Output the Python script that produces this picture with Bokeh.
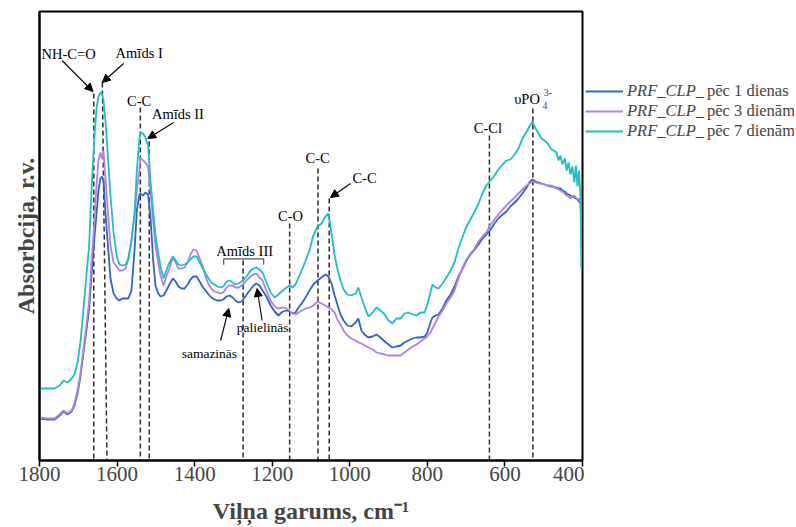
from bokeh.plotting import figure
from bokeh.layouts import row
from bokeh.models import (Range1d, FixedTicker, Label, Arrow, NormalHead,
                          Legend, LegendItem)
from bokeh.embed import file_html
from bokeh.resources import INLINE

# ---------------- data ----------------
wavenumber = [
    1800, 1779, 1761, 1748, 1738, 1728, 1717, 1710, 1702, 1694,
    1687, 1679, 1672, 1666, 1659, 1653, 1648, 1643, 1639, 1635,
    1630, 1623, 1617, 1609, 1601, 1594, 1586, 1578, 1571, 1563,
    1555, 1549, 1543, 1540, 1533, 1527, 1520, 1514, 1507, 1501,
    1494, 1488, 1480, 1473, 1465, 1456, 1449, 1442, 1434, 1426,
    1418, 1411, 1403, 1395, 1387, 1380, 1372, 1364, 1357, 1349,
    1341, 1333, 1326, 1318, 1310, 1302, 1295, 1287, 1279, 1271,
    1264, 1256, 1248, 1241, 1233, 1225, 1215, 1204, 1194, 1184,
    1173, 1163, 1155, 1148, 1140, 1132, 1124, 1114, 1104, 1094,
    1083, 1073, 1063, 1055, 1047, 1039, 1032, 1024, 1016, 1006,
    996, 985, 978, 970, 962, 952, 941, 931, 921, 910,
    900, 890, 880, 869, 859, 849, 838, 828, 818, 807,
    800, 792, 787, 779, 771, 761, 751, 740, 730, 720,
    709, 699, 689, 678, 668, 658, 648, 637, 627, 617,
    606, 596, 586, 575, 565, 555, 544, 537, 529, 521,
    513, 506, 498, 490, 482, 475, 467, 462, 457, 452,
    446, 441, 436, 431, 426, 421, 417, 413, 409, 405,
    403,
]

absorb_day1 = [
    0.42, 0.41, 0.41, 0.45, 0.49, 0.46, 0.49, 0.55, 0.67, 0.85,
    1.07, 1.30, 1.52, 1.85, 2.20, 2.47, 2.70, 2.82, 2.84, 2.80,
    2.48, 2.12, 1.82, 1.67, 1.62, 1.60, 1.62, 1.62, 1.62, 1.70,
    2.10, 2.50, 2.65, 2.67, 2.65, 2.68, 2.66, 2.45, 2.00, 1.75,
    1.67, 1.64, 1.65, 1.70, 1.76, 1.82, 1.79, 1.74, 1.72, 1.72,
    1.76, 1.81, 1.84, 1.84, 1.79, 1.74, 1.70, 1.66, 1.63, 1.61,
    1.60, 1.60, 1.61, 1.64, 1.65, 1.63, 1.60, 1.58, 1.59, 1.63,
    1.67, 1.71, 1.75, 1.77, 1.75, 1.70, 1.64, 1.55, 1.49, 1.45,
    1.49, 1.50, 1.49, 1.47, 1.48, 1.53, 1.57, 1.63, 1.70, 1.76,
    1.80, 1.83, 1.86, 1.84, 1.77, 1.65, 1.56, 1.46, 1.40, 1.35,
    1.34, 1.38, 1.42, 1.30, 1.26, 1.23, 1.24, 1.26, 1.23, 1.19,
    1.16, 1.13, 1.14, 1.15, 1.18, 1.20, 1.22, 1.23, 1.23, 1.24,
    1.28, 1.38, 1.43, 1.45, 1.46, 1.52, 1.60, 1.66, 1.74, 1.84,
    1.92, 2.00, 2.06, 2.11, 2.16, 2.22, 2.26, 2.31, 2.37, 2.42,
    2.46, 2.49, 2.54, 2.58, 2.62, 2.67, 2.73, 2.78, 2.81, 2.79,
    2.78, 2.77, 2.76, 2.75, 2.74, 2.74, 2.73, 2.72, 2.72, 2.70,
    2.69, 2.67, 2.66, 2.65, 2.64, 2.63, 2.62, 2.61, 2.59, 2.57,
    2.32,
]

absorb_day3 = [
    0.43, 0.42, 0.42, 0.46, 0.50, 0.47, 0.50, 0.57, 0.70, 0.88,
    1.10, 1.35, 1.60, 1.98, 2.35, 2.75, 3.00, 3.08, 3.02, 3.10,
    2.82, 2.45, 2.15, 1.98, 1.94, 1.90, 1.90, 1.92, 2.02, 2.20,
    2.45, 2.70, 2.88, 3.03, 3.00, 2.98, 2.94, 2.70, 2.40, 2.15,
    1.98, 1.85, 1.75, 1.84, 1.92, 2.03, 1.98, 1.92, 1.92, 1.93,
    1.98, 2.06, 2.11, 2.10, 2.02, 1.95, 1.84, 1.76, 1.72, 1.69,
    1.68, 1.67, 1.68, 1.73, 1.75, 1.75, 1.73, 1.73, 1.75, 1.78,
    1.81, 1.84, 1.86, 1.87, 1.83, 1.80, 1.70, 1.60, 1.54, 1.52,
    1.53, 1.52, 1.50, 1.47, 1.46, 1.48, 1.50, 1.52, 1.53, 1.55,
    1.59, 1.57, 1.55, 1.53, 1.51, 1.48, 1.41, 1.36, 1.30, 1.25,
    1.22, 1.20, 1.18, 1.17, 1.15, 1.13, 1.11, 1.08, 1.07, 1.06,
    1.05, 1.05, 1.05, 1.05, 1.08, 1.11, 1.14, 1.16, 1.19, 1.22,
    1.24, 1.28, 1.32, 1.38, 1.44, 1.50, 1.57, 1.63, 1.70, 1.82,
    1.93, 2.01, 2.07, 2.12, 2.19, 2.24, 2.28, 2.36, 2.41, 2.46,
    2.51, 2.55, 2.59, 2.63, 2.67, 2.71, 2.75, 2.77, 2.79, 2.78,
    2.77, 2.77, 2.76, 2.75, 2.75, 2.74, 2.72, 2.71, 2.70, 2.69,
    2.67, 2.65, 2.64, 2.62, 2.64, 2.65, 2.63, 2.61, 2.62, 2.60,
    2.35,
]

absorb_day7 = [
    0.72, 0.72, 0.72, 0.75, 0.80, 0.78, 0.82, 0.86, 0.98, 1.20,
    1.50, 1.85, 2.15, 2.70, 3.20, 3.52, 3.64, 3.68, 3.67, 3.60,
    3.40, 3.00, 2.65, 2.28, 2.05, 1.96, 1.95, 1.96, 2.01, 2.20,
    2.47, 2.90, 3.20, 3.28, 3.27, 3.23, 3.15, 2.80, 2.50, 2.25,
    2.08, 1.94, 1.82, 1.90, 1.98, 2.04, 2.00, 1.96, 1.95, 1.96,
    1.98, 2.01, 2.04, 2.04, 1.98, 1.93, 1.87, 1.82, 1.78, 1.76,
    1.74, 1.73, 1.74, 1.79, 1.80, 1.78, 1.76, 1.77, 1.79, 1.82,
    1.85, 1.90, 1.92, 1.93, 1.91, 1.88, 1.78, 1.68, 1.63, 1.66,
    1.70, 1.73, 1.75, 1.73, 1.76, 1.83, 1.90, 2.00, 2.10, 2.25,
    2.34, 2.37, 2.44, 2.47, 2.27, 2.05, 1.92, 1.80, 1.71, 1.66,
    1.65, 1.67, 1.73, 1.63, 1.54, 1.44, 1.48, 1.53, 1.50, 1.46,
    1.40, 1.37, 1.42, 1.42, 1.47, 1.48, 1.46, 1.45, 1.48, 1.48,
    1.56, 1.68, 1.76, 1.73, 1.72, 1.77, 1.83, 1.90, 1.98, 2.12,
    2.24, 2.34, 2.41, 2.49, 2.57, 2.67, 2.75, 2.80, 2.85, 2.91,
    2.96, 3.00, 3.01, 3.06, 3.12, 3.22, 3.29, 3.34, 3.39, 3.32,
    3.27, 3.22, 3.20, 3.17, 3.12, 3.10, 3.08, 3.00, 3.05, 2.96,
    3.02, 2.90, 2.98, 2.86, 2.94, 2.78, 2.95, 2.74, 2.90, 2.62,
    1.92,
]

sample_name = "PRF_CLP_"
series_names = ["pēc 1 dienas", "pēc 3 dienām", "pēc 7 dienām"]
series_colors = ["#2f63c9", "#b27fe6", "#1cbfc2"]
x_ticks = [1800, 1600, 1400, 1200, 1000, 800, 600, 400]

# band marker lines: top wavenumber, bottom wavenumber, top absorbance
band_x_top = [1660, 1638, 1540, 1517, 1275, 1155, 1082, 1053, 640, 528]
band_x_bottom = [1660, 1626, 1540, 1517, 1275, 1155, 1082, 1053, 640, 528]
band_y_top = [3.67, 3.78, 3.53, 3.19, 2.00, 2.37, 2.92, 2.62, 3.25, 3.52]

# annotation texts: (text, x, y, size)
notes = [
    ("NH-C=O", 1725, 4.07, "14.5px"),
    ("Amīds I", 1543, 4.08, "14.5px"),
    ("C-C", 1543, 3.60, "14.5px"),
    ("Amīds II", 1443, 3.465, "14.5px"),
    ("C-O", 1153, 2.45, "14.5px"),
    ("C-C", 1083, 3.03, "14.5px"),
    ("C-C", 962, 2.83, "14.5px"),
    ("Amīds III", 1271, 2.10, "14.5px"),
    ("samazinās", 1362, 1.07, "13.5px"),
    ("palielinās", 1225, 1.33, "13.5px"),
    ("C-Cl", 644, 3.33, "14.5px"),
    ("υPO", 543, 3.62, "14.5px"),
]

# arrows: x_start, y_start, x_end, y_end
arrows = [
    (1742, 4.00, 1662, 3.69),
    (1583, 3.97, 1638, 3.78),
    (1454, 3.38, 1521, 3.22),
    (998, 2.77, 1050, 2.63),
    (1333, 1.20, 1312, 1.52),
    (1226, 1.40, 1239, 1.72),
]

FONT = "Liberation Serif"

p = figure(frame_width=543, frame_height=449,
           min_border_left=39, min_border_right=2, min_border_top=11,
           min_border_bottom=0,
           x_range=Range1d(1800, 400), y_range=Range1d(0, 4.49),
           output_backend="svg", toolbar_location=None,
           background_fill_color="white", border_fill_color="white")

p.xgrid.visible = False
p.ygrid.visible = False
p.outline_line_color = "black"
p.outline_line_width = 2

xa = p.xaxis[0]
xa.ticker = FixedTicker(ticks=x_ticks)
xa.axis_label = "Viļņa garums, cm⁻¹"
xa.axis_label_text_font = FONT
xa.axis_label_text_font_style = "bold"
xa.axis_label_text_font_size = "24px"
xa.axis_label_standoff = 14
xa.major_label_text_font = FONT
xa.major_label_text_font_size = "21px"
xa.major_label_standoff = 0
xa.major_tick_out = 6
xa.major_tick_in = 0
xa.minor_tick_line_color = None
xa.axis_line_width = 2
xa.major_tick_line_width = 1.5

ya = p.yaxis[0]
ya.ticker = FixedTicker(ticks=[])
ya.axis_label = "Absorbcija, r.v."
ya.axis_label_text_font = FONT
ya.axis_label_text_font_style = "bold"
ya.axis_label_text_font_size = "24px"
ya.axis_label_standoff = 1
ya.major_tick_line_color = None
ya.minor_tick_line_color = None
ya.axis_line_width = 2

# band marker dashed lines
p.segment(x0=band_x_top, y0=band_y_top, x1=band_x_bottom,
          y1=[0] * len(band_x_top), line_color="#2a2a2a",
          line_width=1.5, line_dash="5 3")

# spectra
for vals, col in zip([absorb_day1, absorb_day3, absorb_day7], series_colors):
    p.line(wavenumber, vals, line_color=col, line_width=1.8)

# Amīds III bracket
p.line([1325, 1325, 1222, 1222], [1.957, 2.017, 2.017, 1.957],
       line_color="#555555", line_width=1.2)

for txt, x, y, fs in notes:
    p.add_layout(Label(x=x, y=y, text=txt, text_font=FONT,
                       text_font_size=fs, text_align="center",
                       text_baseline="middle", text_color="black"))
p.add_layout(Label(x=503, y=3.55, text="4", text_font=FONT,
                   text_font_size="10px", text_align="left",
                   text_baseline="middle"))
p.add_layout(Label(x=500, y=3.68, text="3-", text_font=FONT,
                   text_font_size="10px", text_align="left",
                   text_baseline="middle"))

for x0, y0, x1, y1 in arrows:
    p.add_layout(Arrow(x_start=x0, y_start=y0, x_end=x1, y_end=y1,
                       line_color="black", line_width=1.1,
                       end=NormalHead(size=8, fill_color="black",
                                      line_color="black", line_width=1)))

# ---------------- legend panel (right of the plot) ----------------
LEG_H = 527
q = figure(width=210, height=LEG_H, min_border=0,
           x_range=Range1d(0, 1), y_range=Range1d(0, 1),
           x_axis_location=None, y_axis_location=None,
           output_backend="svg", toolbar_location=None,
           background_fill_color="white", border_fill_color="white")
q.xgrid.visible = False
q.ygrid.visible = False
q.outline_line_color = None
# legend key lines (kept outside the visible range of this panel)
proxies = [q.line([5, 6], [5, 6], line_color=c, line_width=1.8)
           for c in series_colors]

leg_y = 320
legend_a = Legend(items=[LegendItem(label=sample_name, renderers=[r])
                         for r in proxies],
                  location=(1, leg_y), orientation="vertical",
                  glyph_width=38, glyph_height=20, label_height=20,
                  label_standoff=4, spacing=0, padding=0, margin=0,
                  border_line_color=None, background_fill_alpha=0,
                  label_text_font=FONT, label_text_font_style="italic",
                  label_text_font_size="16.5px")
legend_b = Legend(items=[LegendItem(label=n, renderers=[r])
                         for n, r in zip(series_names, proxies)],
                  location=(123, leg_y), orientation="vertical",
                  glyph_width=0, glyph_height=20, label_height=20,
                  label_standoff=0, spacing=0, padding=0, margin=0,
                  border_line_color=None, background_fill_alpha=0,
                  label_text_font=FONT, label_text_font_style="normal",
                  label_text_font_size="16.5px")
q.add_layout(legend_a, "center")
q.add_layout(legend_b, "center")

layout = row(p, q, spacing=0)
open("out.html", "w").write(file_html(layout, INLINE))
